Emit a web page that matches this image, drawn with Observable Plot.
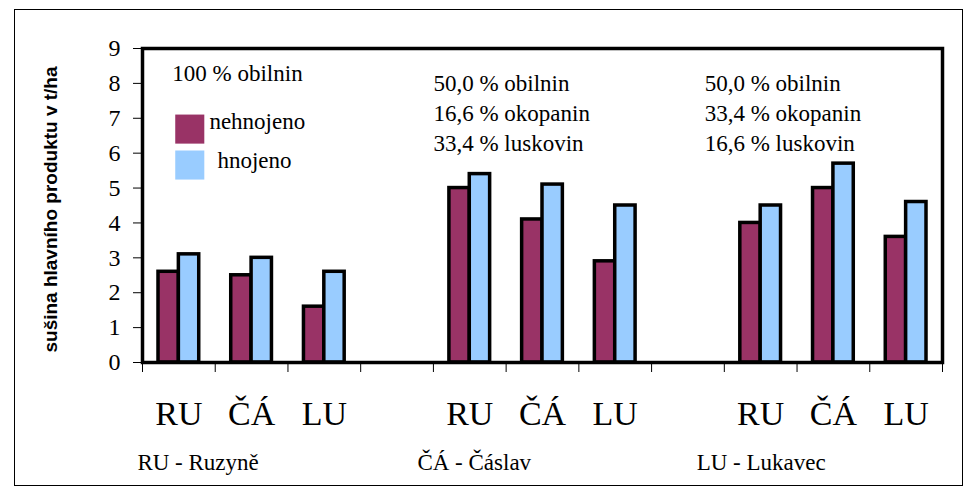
<!DOCTYPE html>
<html><head><meta charset="utf-8">
<script src="https://cdn.jsdelivr.net/npm/d3@7"></script>
<script src="https://cdn.jsdelivr.net/npm/@observablehq/plot@0.6"></script>
<style>
body{margin:0;background:#fff;}
#wrap{position:relative;width:973px;height:498px;}
#wrap svg{position:absolute;left:0;top:0;}
#border{position:absolute;left:14px;top:9px;width:947px;height:475px;border:1px solid #000;pointer-events:none;}
</style></head><body>
<div id="wrap"><div id="border"></div></div>
<script>
// ---- data ----
const sites = ["RU", "ČÁ", "LU"];
const siteNames = ["RU - Ruzyně", "ČÁ - Čáslav", "LU - Lukavec"];
const rotationG1 = ["100 % obilnin"];
const rotationG2 = ["50,0 % obilnin", "16,6 % okopanin", "33,4 % luskovin"];
const rotationG3 = ["50,0 % obilnin", "33,4 % okopanin", "16,6 % luskovin"];
const series = ["nehnojeno", "hnojeno"];
const colors = ["#993366", "#99CCFF"];
const nehnojeno = [2.6, 2.5, 1.6, 5.0, 4.1, 2.9, 4.0, 5.0, 3.6];
const hnojeno   = [3.1, 3.0, 2.6, 5.4, 5.1, 4.5, 4.5, 5.7, 4.6];
const yTicks = [0, 1, 2, 3, 4, 5, 6, 7, 8, 9];
const yLabel = "sušina hlavního produktu v t/ha";

// ---- table ----
const rows = [];
const values = {nehnojeno, hnojeno};
for (let g = 0; g < 3; g++) {
  for (let s = 0; s < 3; s++) {
    const slot = g * 4 + s;
    series.forEach((name) => rows.push({slot, site: sites[s], series: name, value: values[name][g * 3 + s]}));
  }
}
const slotsLabels = [];
for (let g = 0; g < 3; g++) sites.forEach((s, i) => slotsLabels.push({slot: g * 4 + i, site: s}));
const barSpan = {nehnojeno: [0.22, 0.5], hnojeno: [0.5, 0.78]};

const serif = "Liberation Serif";
const sans = "Liberation Sans";

const chart = Plot.plot({
  width: 973,
  height: 498,
  marginLeft: 142,
  marginRight: 31,
  marginTop: 48,
  marginBottom: 136,
  style: {fontFamily: serif, fontSize: "24px", background: "transparent", color: "#000"},
  x: {domain: [0, 11], ticks: d3.range(12), tickSize: 10, tickFormat: () => "", label: null},
  y: {domain: [0, 9], ticks: yTicks, tickSize: 9, tickPadding: 13, label: null},
  color: {domain: series, range: colors},
  marks: [
    Plot.rect(rows, {
      x1: d => d.slot + barSpan[d.series][0],
      x2: d => d.slot + barSpan[d.series][1],
      y1: 0, y2: "value",
      fill: "series", stroke: "#000", strokeWidth: 3.5
    }),
    Plot.frame({stroke: "#000", strokeWidth: 3.5}),
    Plot.text(slotsLabels, {x: d => d.slot + 0.5, y: 0, text: "site", dy: 52, fontSize: 34, fontFamily: serif}),
    Plot.text(siteNames, {x: (d, i) => [-0.07, 3.78, 7.62][i], y: 0, text: d => d, textAnchor: "start", dy: 100, fontSize: 23, fontFamily: serif}),
    Plot.text([rotationG1.join("\n")], {x: 0.41, y: 8.53, text: d => d, textAnchor: "start", lineAnchor: "top", fontSize: 23, fontFamily: serif}),
    Plot.text([rotationG2.join("\n"), rotationG3.join("\n")], {x: (d, i) => [4.0, 7.73][i], y: 8.41, text: d => d, textAnchor: "start", lineAnchor: "top", lineHeight: 1.32, fontSize: 23, fontFamily: serif}),
    Plot.dot(series, {x: 0.65, y: (d, i) => [6.69, 5.66][i], fill: d => d, symbol: "square", r: 16.4}),
    Plot.text(series, {x: (d, i) => [0.92, 1.03][i], y: (d, i) => [6.9, 5.78][i], text: d => d, textAnchor: "start", fontSize: 23, fontFamily: serif}),
    Plot.text([yLabel], {frameAnchor: "left", textAnchor: "middle", rotate: -90, dx: -92, dy: 4, text: d => d, fontSize: 19, fontWeight: "bold", fontFamily: sans})
  ]
});
document.getElementById("wrap").prepend(chart);
</script>
</body></html>
